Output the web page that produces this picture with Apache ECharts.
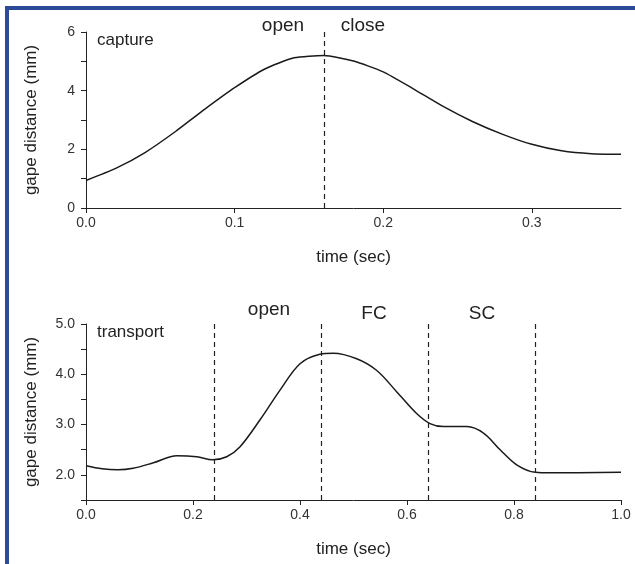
<!DOCTYPE html>
<html lang="en">
<head>
<meta charset="UTF-8">
<title>gape distance</title>
<script src="https://cdn.jsdelivr.net/npm/echarts@6/dist/echarts.min.js"></script>
<style>
  body {margin: 0; background: #fff; overflow: hidden;}
  #main {position: absolute; left: 0; top: 0; width: 635px; height: 564px;}
  #frame {position: absolute; left: 5px; top: 6px; width: 700px; height: 700px;
          border-top: 4px solid #2d4a98; border-left: 4px solid #2d4a98; pointer-events: none;}
</style>
</head>
<body>
<div id="main"></div>
<div id="frame"></div>
<script>
// capture: gape vs time
var captureTime = [0, 0.02, 0.04, 0.06, 0.08, 0.10, 0.12, 0.14, 0.16, 0.18, 0.20, 0.22, 0.24, 0.26, 0.28, 0.30, 0.32, 0.34, 0.36];
var captureGape = [0.94, 1.35, 1.9, 2.6, 3.37, 4.1, 4.73, 5.12, 5.2, 5.01, 4.64, 4.07, 3.47, 2.95, 2.52, 2.17, 1.95, 1.85, 1.83];
var capturePhases = [0.159];
var capturePhaseNames = ['open', 'close'];

// transport: gape vs time
var transportTime = [0, 0.03, 0.06, 0.088, 0.126, 0.17, 0.207, 0.237, 0.263, 0.288, 0.325, 0.363, 0.4, 0.437, 0.462, 0.506, 0.543, 0.581, 0.618, 0.643, 0.668, 0.712, 0.743, 0.774, 0.805, 0.84, 0.867, 1.0];
var transportGape = [2.18, 2.12, 2.1, 2.13, 2.24, 2.38, 2.36, 2.30, 2.36, 2.56, 3.09, 3.69, 4.21, 4.40, 4.42, 4.31, 4.08, 3.65, 3.22, 3.02, 2.96, 2.96, 2.83, 2.50, 2.20, 2.05, 2.04, 2.05];
var transportPhases = [0.237, 0.442, 0.643, 0.84];
var transportPhaseNames = ['open', 'FC', 'SC'];

var font = 'Liberation Sans, Arial, sans-serif';
var ink = '#222';

var myChart = echarts.init(document.getElementById('main'));

function pairs(xs, ys) {
    return xs.map(function (x, i) { return [x, ys[i]]; });
}
function phaseLines(list) {
    return {
        silent: true,
        symbol: ['none', 'none'],
        label: {show: false},
        lineStyle: {color: ink, width: 1.2, type: [5, 4]},
        data: list.map(function (t) { return {xAxis: t}; })
    };
}
function xAxisOpt(idx, max, interval) {
    return {
        type: 'value', gridIndex: idx, min: 0, max: max, interval: interval,
        name: 'time (sec)', nameLocation: 'middle', nameGap: 41,
        nameTextStyle: {fontFamily: font, fontSize: 17, color: ink},
        axisLine: {lineStyle: {color: ink, width: 1}},
        axisTick: {length: 5, lineStyle: {color: ink}},
        axisLabel: {fontFamily: font, fontSize: 14, color: '#333', margin: 8, showMaxLabel: max === 1,
            formatter: function (v) { return v.toFixed(1); }},
        splitLine: {show: false}
    };
}
function yAxisOpt(idx, min, max, interval, fmt) {
    return {
        type: 'value', gridIndex: idx, min: min, max: max, interval: interval,
        name: 'gape distance (mm)', nameLocation: 'middle', nameGap: 46,
        nameTextStyle: {fontFamily: font, fontSize: 17, color: ink},
        axisLine: {show: true, lineStyle: {color: ink, width: 1}},
        axisTick: {show: true, length: 5, lineStyle: {color: ink}},
        axisLabel: {fontFamily: font, fontSize: 14, color: '#333', margin: 11, formatter: fmt},
        splitLine: {show: false}
    };
}
function label(text, x, y, size, align) {
    return {type: 'text', x: x, y: y, silent: true,
        style: {text: text, fontFamily: font, fontSize: size, fill: ink,
                align: align || 'center', verticalAlign: 'middle'}};
}

var option = {
    animation: false,
    backgroundColor: 'transparent',
    grid: [
        {left: 86, top: 32, width: 535, height: 176},
        {left: 86, top: 324, width: 535, height: 176}
    ],
    xAxis: [xAxisOpt(0, 0.36, 0.1), xAxisOpt(1, 1, 0.2)],
    yAxis: [
        yAxisOpt(0, 0, 6, 1, function (v) { return v % 2 === 0 ? String(v) : ''; }),
        yAxisOpt(1, 1.5, 5, 0.5, function (v) { return Math.abs(v - Math.round(v)) < 1e-6 ? v.toFixed(1) : ''; })
    ],
    graphic: [
        label('capture', 97, 40, 17, 'left'),
        label(capturePhaseNames[0], 283, 26, 19),
        label(capturePhaseNames[1], 363, 26, 19),
        label('transport', 97, 332, 17, 'left'),
        label(transportPhaseNames[0], 269, 310, 19),
        label(transportPhaseNames[1], 374, 314, 19),
        label(transportPhaseNames[2], 482, 314, 19)
    ],
    series: [
        {
            type: 'line', xAxisIndex: 0, yAxisIndex: 0, showSymbol: false, smooth: 0.2,
            lineStyle: {color: '#1a1a1a', width: 1.5},
            data: pairs(captureTime, captureGape),
            markLine: phaseLines(capturePhases)
        },
        {
            type: 'line', xAxisIndex: 1, yAxisIndex: 1, showSymbol: false, smooth: 0.35,
            lineStyle: {color: '#1a1a1a', width: 1.5},
            data: pairs(transportTime, transportGape),
            markLine: phaseLines(transportPhases)
        }
    ]
};
myChart.setOption(option);
</script>
</body>
</html>
